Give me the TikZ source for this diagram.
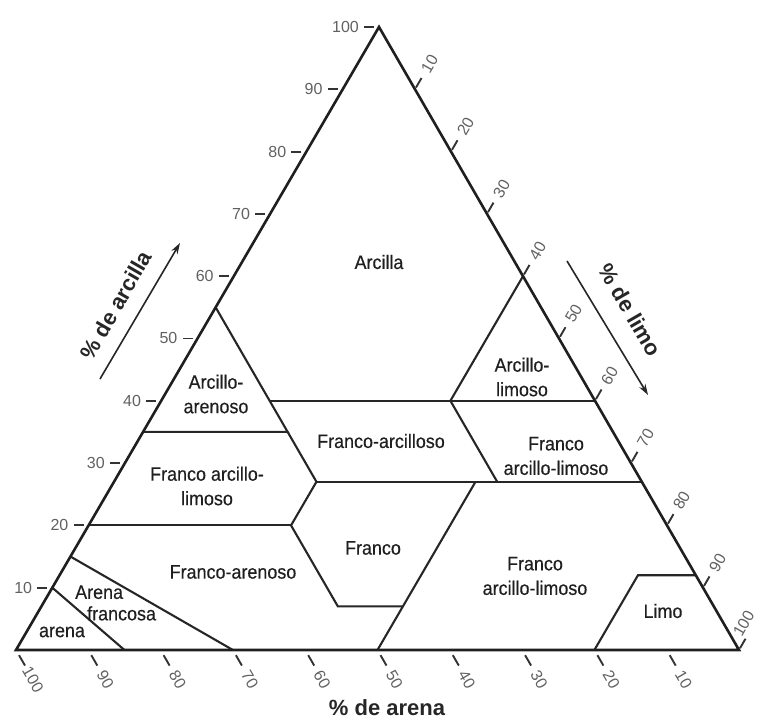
\documentclass[tikz,border=0pt]{standalone}
\usepackage{fontspec}
\setmainfont{Liberation Sans}
\newfontfamily\regionfont[FakeStretch=0.92,FakeBold=0.35]{Liberation Sans}
\usetikzlibrary{calc,arrows.meta}

\tikzset{
  frame/.style={line width=2.6pt, black!88, line join=miter},
  border/.style={line width=2.1pt, black!85, line join=miter},
  tickmark/.style={line width=1.9pt, black!80},
  numlabel/.style={font=\fontsize{16}{16}\selectfont, text=black!62, inner sep=0pt},
  region/.style={font=\regionfont\fontsize{19.5}{24.5}\selectfont, text=black!88, align=center, inner sep=0pt},
  axistitle/.style={font=\bfseries\fontsize{22}{22}\selectfont, text=black!85, inner sep=0pt},
  axisarrow/.style={line width=1.6pt, black!85, -{Stealth[length=11pt,width=7pt]}},
}

% point of the texture triangle from (sand, silt, clay) in percent;
% corners: 100 % sand at (16,77), 100 % silt at (739,77), 100 % clay at (379,700)
\newcommand{\tpt}[4]{%
  \pgfmathsetmacro\tptx{0.16*#2+7.39*#3+3.79*#4}%
  \pgfmathsetmacro\tpty{0.77*#2+0.77*#3+7.00*#4}%
  \coordinate (#1) at (\tptx,\tpty);}

\begin{document}
\begin{tikzpicture}[x=1pt,y=1pt]
\useasboundingbox (0,0) rectangle (761,727);

\tpt{A}{100}{0}{0}
\tpt{B}{0}{100}{0}
\tpt{C}{0}{0}{100}

% class boundary vertices (sand, silt, clay)
\tpt{c55}{45}{0}{55}
\tpt{c35}{65}{0}{35}
\tpt{c20}{80}{0}{20}
\tpt{c15}{85}{0}{15}
\tpt{c10}{90}{0}{10}
\tpt{p4015}{45}{15}{40}
\tpt{p3520}{45}{20}{35}
\tpt{p2728}{45}{28}{27}
\tpt{p2028}{52}{28}{20}
\tpt{p0741}{52}{41}{7}
\tpt{p0750}{43}{50}{7}
\tpt{p2750}{23}{50}{27}
\tpt{p2753}{20}{53}{27}
\tpt{p4040}{20}{40}{40}
\tpt{p1280}{8}{80}{12}
\tpt{s50}{50}{50}{0}
\tpt{s30}{70}{30}{0}
\tpt{s15}{85}{15}{0}
\tpt{s80}{20}{80}{0}
\tpt{r40}{0}{40}{60}
\tpt{r60}{0}{60}{40}
\tpt{r73}{0}{73}{27}
\tpt{r88}{0}{88}{12}

% class boundaries
\draw[border] (c55) -- (p3520) -- (c35);
\draw[border] (p4015) -- (r60);
\draw[border] (r40) -- (p4040) -- (p2753);
\draw[border] (p3520) -- (p2728) -- (p2028) -- (p0741) -- (p0750);
\draw[border] (p2728) -- (r73);
\draw[border] (p2750) -- (s50);
\draw[border] (p2028) -- (c20);
\draw[border] (c15) -- (s30);
\draw[border] (c10) -- (s15);
\draw[border] (s80) -- (p1280) -- (r88);

% outer triangle
\draw[frame] (A) -- (B) -- (C) -- cycle;

% clay scale (left side)
\foreach \v in {10,20,...,100} {
  \pgfmathtruncatemacro\w{100-\v}
  \tpt{L\v}{\w}{0}{\v}
  \draw[tickmark] ([xshift=-5pt]L\v) -- ([xshift=-15pt]L\v);
  \node[numlabel,anchor=east] at ([xshift=-20pt]L\v) {\v};
}
% silt scale (right side)
\foreach \v in {10,20,...,90} {
  \pgfmathtruncatemacro\w{100-\v}
  \tpt{R\v}{0}{\v}{\w}
  \draw[tickmark] ($(R\v)+(60:2pt)$) -- ($(R\v)+(60:13pt)$);
  \node[numlabel,rotate=60] at ($(R\v)+(60:29pt)$) {\v};
}
\tpt{R100}{0}{100}{0}
\draw[tickmark] ($(R100)+(60:2pt)$) -- ($(R100)+(60:13pt)$);
\node[numlabel,rotate=60] at ($(R100)+(80:27pt)$) {100};

% sand scale (bottom)
\foreach \v in {10,20,...,100} {
  \pgfmathtruncatemacro\w{100-\v}
  \tpt{S\v}{\v}{\w}{0}
  \draw[tickmark] ($(S\v)+(-60:6pt)$) -- ($(S\v)+(-60:18pt)$);
  \node[numlabel,rotate=-60] at ($(S\v)+(-60:34pt)$) {\v};
}

% axis titles and arrows
\node[axistitle,rotate=60] (tclay) at (116,422) {\% de arcilla};
\coordinate (clayS) at (100,348);
\coordinate (clayE) at (180,484);
\draw[axisarrow] (clayS) -- (clayE);

\node[axistitle,rotate=-60] (tsilt) at (630,417) {\% de limo};
\coordinate (siltS) at (567,466);
\coordinate (siltE) at (648,332);
\draw[axisarrow] (siltS) -- (siltE);

\node[axistitle] (tsand) at (387,19) {\% de arena};

% texture classes
\node[region] (arcilla) at (379,465) {Arcilla};
\node[region] (arcare) at (216,333) {Arcillo-\\arenoso};
\node[region] (arclim) at (522,350) {Arcillo-\\limoso};
\node[region] (fraarc) at (381,286) {Franco-arcilloso};
\node[region] (fraarclimA) at (556,271) {Franco\\arcillo-limoso};
\node[region] (fraarclimB) at (207,241) {Franco arcillo-\\limoso};
\node[region] (franco) at (373,179) {Franco};
\node[region] (fraare) at (233,155) {Franco-arenoso};
\node[region] (fraarclimC) at (535,151) {Franco\\arcillo-limoso};
\node[region] (limo) at (663,116) {Limo};
\node[region,align=left,anchor=west,font=\regionfont\fontsize{19.5}{21.5}\selectfont] (arefra) at (75,124) {Arena\\\hspace*{12pt}francosa};
\node[region] (arena) at (62,95) {arena};
\end{tikzpicture}
\end{document}
